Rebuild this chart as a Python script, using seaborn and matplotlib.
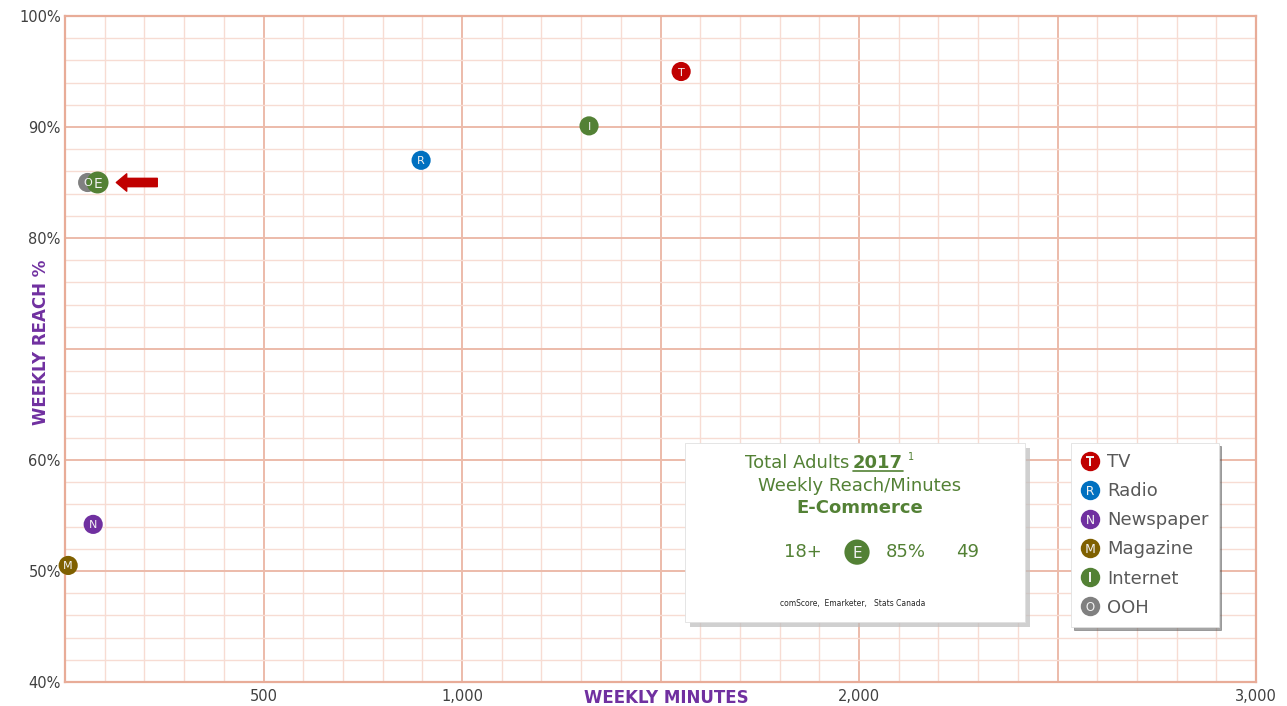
import numpy as np
import pandas as pd
import matplotlib
matplotlib.use("Agg")
import matplotlib.pyplot as plt
import seaborn as sns
from matplotlib.ticker import MultipleLocator, FuncFormatter
from matplotlib.lines import Line2D
from matplotlib.patches import Rectangle

# data
media = ['TV', 'Radio', 'Newspaper', 'Magazine', 'Internet', 'OOH']
letters = ['T', 'R', 'N', 'M', 'I', 'O']
minutes = [1552, 897, 71, 8, 1320, 57]
reach = [95.0, 87.0, 54.2, 50.5, 90.1, 85.0]
colors = ['#C00000', '#0070C0', '#7030A0', '#7F6000', '#538135', '#808080']

ecom_minutes = 82
ecom_reach = 85.0
ecom_label = ['18+', '85%', '49']

x_labels = {500: '500', 1000: '1,000', 2000: '2,000', 3000: '3,000'}
y_labels = [40, 50, 60, 80, 90, 100]

sns.set_style('white')
plt.rcParams['font.family'] = ['DejaVu Sans']
plt.rcParams['mathtext.default'] = 'regular'

df = pd.DataFrame({'media': media, 'letter': letters, 'minutes': minutes, 'reach': reach})
palette = dict(zip(media, colors))

fig = plt.figure(figsize=(12.87, 7.06), dpi=100)
ax = fig.add_axes([65 / 1287, 1 - 682 / 706, 1191 / 1287, 666 / 706])

sns.scatterplot(data=df, x='minutes', y='reach', hue='media', palette=palette,
                s=190, edgecolor='none', legend=False, ax=ax, zorder=5, clip_on=False)
ax.scatter([ecom_minutes], [ecom_reach], s=250, color='#538135', edgecolor='none',
           zorder=6, clip_on=False)

for _, r in df.iterrows():
    ax.text(r['minutes'], r['reach'], r['letter'], color='#F2F2F2', fontsize=8,
            ha='center', va='center_baseline', zorder=7)
ax.text(ecom_minutes, ecom_reach, 'E', color='#F2F2F2', fontsize=10,
        ha='center', va='center_baseline', zorder=7)

# red arrow pointing to E
ax.annotate('', xy=(ecom_minutes, ecom_reach), xytext=(43, 0), textcoords='offset points',
            arrowprops=dict(arrowstyle='simple,head_length=0.75,head_width=1.25,tail_width=0.6',
                            color='#C00000', mutation_scale=10, shrinkA=0, shrinkB=13.5),
            zorder=6)

ax.set_xlim(0, 3000)
ax.set_ylim(40, 100)
ax.xaxis.set_major_locator(MultipleLocator(500))
ax.xaxis.set_minor_locator(MultipleLocator(100))
ax.yaxis.set_major_locator(MultipleLocator(10))
ax.yaxis.set_minor_locator(MultipleLocator(2))
ax.xaxis.set_major_formatter(FuncFormatter(lambda v, p: x_labels.get(int(round(v)), '')))
ax.yaxis.set_major_formatter(FuncFormatter(lambda v, p: f'{int(round(v))}%' if int(round(v)) in y_labels else ''))

ax.grid(which='major', color='#ECBBAA', linewidth=1.4)
ax.grid(which='minor', color='#F7DCD3', linewidth=1.0)
ax.set_axisbelow(True)
for s in ax.spines.values():
    s.set_color('#E8AC98')
    s.set_linewidth(1.6)
ax.tick_params(which='both', length=0, labelsize=10.5, labelcolor='#404040')
ax.tick_params(axis='x', pad=5)
ax.tick_params(axis='y', pad=3)

ax.set_xlabel('WEEKLY MINUTES', color='#7030A0', fontsize=12, fontweight='bold',
              family=['Liberation Sans Narrow', 'DejaVu Sans'])
ax.xaxis.set_label_coords(0.505, -0.011)
ax.set_ylabel('WEEKLY REACH %', color='#7030A0', fontsize=12, fontweight='bold',
              family=['Liberation Sans Narrow', 'DejaVu Sans'])
ax.yaxis.set_label_coords(-0.0126, 0.51)

# info box
bx0, by0, bx1, by1 = 0.5206, 0.090, 0.806, 0.359
ax.add_patch(Rectangle((bx0 + 0.004, by0 - 0.008), bx1 - bx0, by1 - by0, transform=ax.transAxes,
                       facecolor='#BDBDBD', edgecolor='none', alpha=0.7, zorder=8))
ax.add_patch(Rectangle((bx0, by0), bx1 - bx0, by1 - by0, transform=ax.transAxes,
                       facecolor='white', edgecolor='#E0E0E0', linewidth=0.6, zorder=9))
green = '#538135'
t1 = ax.text(0.6585, 0.329, 'Total Adults', transform=ax.transAxes, color=green, fontsize=13,
             ha='right', va='center', zorder=10)
t2 = ax.text(0.6615, 0.329, '2017', transform=ax.transAxes, color=green, fontsize=13,
             fontweight='bold', ha='left', va='center', zorder=10)
ax.text(0.6675, 0.294, 'Weekly Reach/Minutes', transform=ax.transAxes, color=green, fontsize=13,
        ha='center', va='center', zorder=10)
ax.text(0.6675, 0.261, 'E-Commerce', transform=ax.transAxes, color=green, fontsize=13,
        fontweight='bold', ha='center', va='center', zorder=10)
ax.text(0.6197, 0.195, ecom_label[0], transform=ax.transAxes, color=green, fontsize=13,
        ha='center', va='center', zorder=10)
ax.scatter([0.665], [0.195], s=330, color=green, transform=ax.transAxes, zorder=10,
           edgecolor='none', clip_on=False)
ax.text(0.665, 0.195, 'E', transform=ax.transAxes, color='#F2F2F2', fontsize=11,
        ha='center', va='center_baseline', zorder=11)
ax.text(0.706, 0.195, ecom_label[1], transform=ax.transAxes, color=green, fontsize=13,
        ha='center', va='center', zorder=10)
ax.text(0.758, 0.195, ecom_label[2], transform=ax.transAxes, color=green, fontsize=13,
        ha='center', va='center', zorder=10)
ax.text(0.6616, 0.1186, 'comScore,  Emarketer,   Stats Canada', transform=ax.transAxes,
        color='#262626', fontsize=5.5, ha='center', va='center', zorder=10)

# underline under 2017 and superscript after it
fig.canvas.draw()
bb = t2.get_window_extent().transformed(ax.transAxes.inverted())
ax.add_line(Line2D([bb.x0, bb.x1], [bb.y0 + 0.002, bb.y0 + 0.002], transform=ax.transAxes,
                   color=green, linewidth=1.2, zorder=10))
ax.text(bb.x1 + 0.004, 0.338, '1', transform=ax.transAxes, color=green, fontsize=7,
        ha='left', va='center', zorder=10)

# legend with letter markers
handles = []
for c, l in zip(colors, letters):
    circ = Line2D([], [], marker='o', linestyle='none', markersize=14, color=c, markeredgewidth=0)
    let = Line2D([], [], marker=f'${l}$', linestyle='none', markersize=6.5, color='#F2F2F2',
                 markeredgewidth=0)
    handles.append((circ, let))
leg = ax.legend(handles, media, loc='upper left', bbox_to_anchor=(0.8447, 0.359),
                frameon=True, fancybox=False, shadow=True, fontsize=13, labelcolor='#595959',
                labelspacing=0.62, handlelength=1.0, handletextpad=0.45, borderpad=0.55,
                borderaxespad=0, framealpha=1)
leg.get_frame().set_edgecolor('#E0E0E0')
leg.get_frame().set_linewidth(0.6)
leg.set_zorder(12)

fig.savefig('out.png', dpi=100)
